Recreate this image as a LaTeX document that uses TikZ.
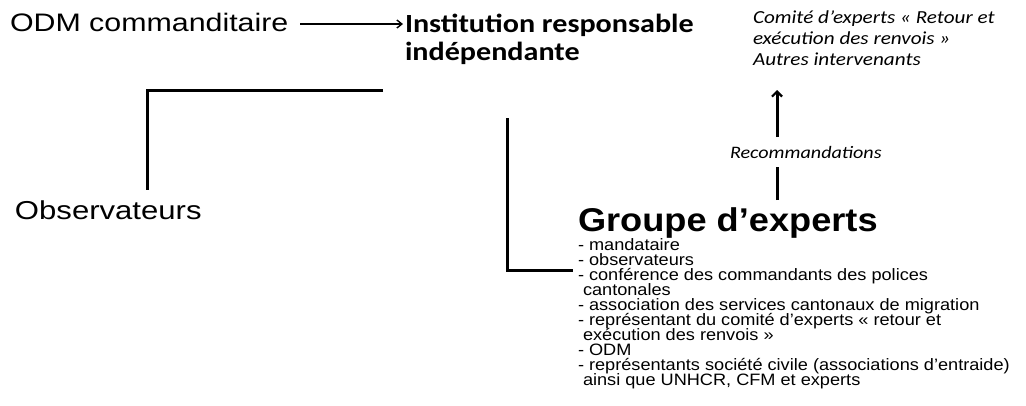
\documentclass[tikz,border=0pt]{standalone}
\usepackage{fontspec}
\setmainfont{Liberation Sans}[FakeStretch=1.1]
\newfontfamily\topfam{Liberation Sans}[FakeStretch=1.2]
\newfontfamily\calibfam{Carlito}[FakeStretch=1.15]
\usetikzlibrary{arrows.meta}
\begin{document}
\begin{tikzpicture}[x=1pt,y=-1pt,
  txt/.style={anchor=base west, inner sep=0pt, outer sep=0pt},
  big/.style={txt, font=\topfam\fontsize{25.3}{30}\selectfont},
  inst/.style={txt, font=\calibfam\bfseries\fontsize{26.2}{28}\selectfont},
  ital/.style={txt, font=\calibfam\itshape\fontsize{17.5}{21}\selectfont},
  comm/.style={txt, font=\calibfam\itshape\fontsize{18.4}{21}\selectfont},
  grp/.style={txt, font=\bfseries\fontsize{32.9}{34}\selectfont},
  item/.style={txt, font=\fontsize{16.5}{15}\selectfont},
  bracket/.style={line width=3pt},
  thinarr/.style={line width=1.4pt, -{Straight Barb[length=5pt,width=8pt,line width=1.4pt]}},
  uparr/.style={line width=3pt, -{Straight Barb[length=5pt,width=10pt,line width=2.2pt]}}
]
\useasboundingbox (0,0) rectangle (1026,405);

% top row
\node[big] (odm) at (10,31.5) {ODM commanditaire};
\node[inst] (inst) at (405,32) {Institution responsable};
\node[inst] (inst2) at (405,60) {indépendante};
\draw[thinarr, shorten <=12pt, shorten >=2pt] ([yshift=7.5pt]odm.base east) -- ([yshift=7.5pt]odm.base east -| inst.west);

% committee
\node[comm] (com1) at (753,23) {Comité d’experts « Retour et};
\node[comm] (com2) at (753,44) {exécution des renvois »};
\node[comm] (com3) at (753,65) {Autres intervenants};

% observers
\node[big, font=\topfam\fontsize{25.9}{30}\selectfont] (obs) at (15,219) {Observateurs};
\coordinate (lbs) at (383,90);
\coordinate (lbe) at (147,190);
\draw[bracket] (lbs) -| (lbe);

% recommendations
\node[ital] (rec) at (730,158) {Recommandations};
\coordinate (ua) at (777,137);
\coordinate (ut) at (777,90);
\draw[uparr] (ua) -- (ut);
\coordinate (gl1) at (777,200);
\coordinate (gl2) at (777,167);
\draw[bracket] (gl1) -- (gl2);

% group of experts
\node[grp] (grp) at (578,231) {Groupe d’experts};
\coordinate (rbs) at (507,118);
\coordinate (rbe) at (573,270);
\draw[bracket] (rbs) |- (rbe);

\node[item] (l1) at (578,250) {- mandataire};
\node[item] (l2) at (578,265.1) {- observateurs};
\node[item] (l3) at (578,280.2) {- conférence des commandants des polices};
\node[item] (l4) at (583,295.3) {cantonales};
\node[item] (l5) at (578,310.4) {- association des services cantonaux de migration};
\node[item] (l6) at (578,325.5) {- représentant du comité d’experts « retour et};
\node[item] (l7) at (583,340.6) {exécution des renvois »};
\node[item] (l8) at (578,355.7) {- ODM};
\node[item] (l9) at (578,370.8) {- représentants société civile (associations d’entraide)};
\node[item] (l10) at (583,385.9) {ainsi que UNHCR, CFM et experts};
\end{tikzpicture}
\end{document}
